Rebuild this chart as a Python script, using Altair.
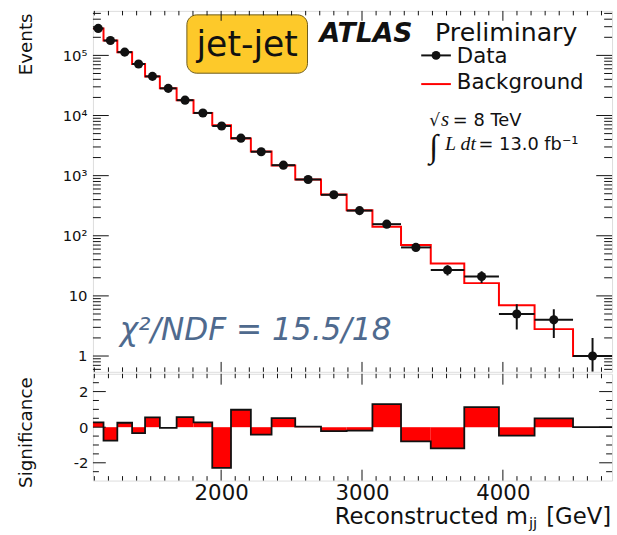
import altair as alt
import numpy as np
import pandas as pd

# ---- dijet invariant mass spectrum, variable-width bins [GeV] ----
mjj_edges = [1090, 1165, 1263, 1368, 1460, 1565, 1684, 1804, 1937, 2070, 2211,
             2358, 2526, 2709, 2891, 3074, 3277, 3488, 3726, 3972, 4225, 4498, 4775]
data_events = [281000, 176500, 113300, 71900, 44800, 28300, 18000, 11040, 6700,
               4200, 2500, 1494, 863, 480, 262, 156, 64, 27, 21, 5, 4, 1]
background = [280860, 176800, 113220, 71990, 44680, 28305, 17925, 11010, 6887,
              4136, 2521, 1474, 862, 485, 265, 141, 70, 34.5, 16.3, 7.0, 2.8, 1.0]
significance = [0.27, -0.75, 0.25, -0.33, 0.55, -0.04, 0.56, 0.27, -2.28, 0.98,
                -0.42, 0.51, 0.03, -0.22, -0.19, 1.29, -0.80, -1.19, 1.13, -0.48,
                0.49, 0.0]

# ---- axis ranges and ticks ----
X_RANGE = [1090, 4775]
Y_RANGE = [0.546, 549500]
S_RANGE = [-3, 3]
x_tick_labels = [2000, 3000, 4000]
x_minor_ticks = [m for m in range(1100, 4800, 100) if m % 1000]
y_tick_labels = [1, 10, 100, 1000, 10000, 100000]
y_minor_ticks = [d * 10.0 ** k for k in range(-1, 6) for d in range(2, 10)
                 if Y_RANGE[0] < d * 10.0 ** k < Y_RANGE[1]]
sig_tick_labels = [-2, 0, 2]
sig_minor_ticks = [-2.5, -1.5, -1, -0.5, 0.5, 1, 1.5, 2.5]

W, H_MAIN, H_SIG = 525, 365, 108
FONT = "DejaVu Sans"
SERIF = "Liberation Serif"
RED = "#ff0000"
INK = "#111111"

# ---- tables ----
data_arr = np.array(data_events, dtype=float)
bins = pd.DataFrame({
    "lo": mjj_edges[:-1],
    "hi": mjj_edges[1:],
    "center": [(a + b) / 2 for a, b in zip(mjj_edges[:-1], mjj_edges[1:])],
    "data": data_arr,
    "err_lo": np.maximum(data_arr - np.sqrt(data_arr), Y_RANGE[0]),
    "err_hi": data_arr + np.sqrt(data_arr),
    "sig": significance,
    "base": 0.0,
})
steps = pd.DataFrame({
    "m": mjj_edges,
    "bkg": background + [background[-1]],
    "sig": significance + [significance[-1]],
})
one = pd.DataFrame({"k": [0]})

xs = alt.Scale(domain=X_RANGE, nice=False, zero=False)
ys = alt.Scale(type="log", domain=Y_RANGE, nice=False)
ss = alt.Scale(domain=S_RANGE, nice=False, zero=False)

y_main_axis = alt.Axis(
    values=y_tick_labels,
    labelExpr=("datum.value >= 99999 ? '10\u2075' : datum.value >= 9999 ? '10\u2074' : "
               "datum.value >= 999 ? '10\u00b3' : datum.value >= 99 ? '10\u00b2' : "
               "datum.value >= 9 ? '10' : '1'"),
    labelFont=FONT, labelFontSize=15, labelPadding=6, labelColor=INK,
    ticks=False, tickSize=0, domain=False, grid=False,
    title="Events", titleFont=FONT, titleFontSize=18.5, titleFontWeight="normal",
    titleColor=INK, titleAngle=270, titleAlign="right", titleBaseline="alphabetic",
    titleX=-62, titleY=2,
)
y_sig_axis = alt.Axis(
    values=sig_tick_labels,
    labelExpr="datum.value < 0 ? '-' + abs(datum.value) : '' + datum.value",
    labelFont=FONT, labelFontSize=15, labelPadding=5, labelColor=INK,
    ticks=False, tickSize=0, domain=False, grid=False,
    title="Significance", titleFont=FONT, titleFontSize=18.5, titleFontWeight="normal",
    titleColor=INK, titleAngle=270, titleAlign="center", titleBaseline="alphabetic",
    titleX=-62, titleY=59,
)
x_sig_axis = alt.Axis(
    values=x_tick_labels, format="d",
    labelFont=FONT, labelFontSize=21.5, labelPadding=2, labelColor=INK,
    ticks=False, tickSize=0, domain=False, grid=False, title=None,
)


def XM(field):
    return alt.X(field, type="quantitative", scale=xs, axis=None)


def YM(field):
    return alt.Y(field, type="quantitative", scale=ys, axis=y_main_axis)


def XS(field):
    return alt.X(field, type="quantitative", scale=xs, axis=x_sig_axis)


def YS(field):
    return alt.Y(field, type="quantitative", scale=ss, axis=y_sig_axis)


def label(text, x, y, size, font=FONT, color=INK, align="left", **kw):
    return alt.Chart(one).mark_text(
        text=text, align=align, baseline="alphabetic", font=font,
        fontSize=size, color=color, **kw
    ).encode(x=alt.value(x), y=alt.value(y))


def ticks_x(values, xenc, height, length):
    df = pd.DataFrame({"v": values})
    top = alt.Chart(df).mark_rule(color=INK, strokeWidth=1).encode(
        x=xenc("v"), y=alt.value(0), y2=alt.value(length))
    bottom = alt.Chart(df).mark_rule(color=INK, strokeWidth=1).encode(
        x=xenc("v"), y=alt.value(height), y2=alt.value(height - length))
    return [top, bottom]


def ticks_y(values, yenc, length):
    df = pd.DataFrame({"v": values})
    left = alt.Chart(df).mark_rule(color=INK, strokeWidth=1).encode(
        y=yenc("v"), x=alt.value(0), x2=alt.value(length))
    right = alt.Chart(df).mark_rule(color=INK, strokeWidth=1).encode(
        y=yenc("v"), x=alt.value(W), x2=alt.value(W - length))
    return [left, right]


# ---- upper panel: spectrum ----
bkg_line = alt.Chart(steps).mark_line(
    interpolate="step-after", color=RED, strokeWidth=2).encode(
    x=XM("m"), y=YM("bkg"))
xerr = alt.Chart(bins).mark_rule(color=INK, strokeWidth=2).encode(
    x=XM("lo"), x2="hi", y=YM("data"))
yerr = alt.Chart(bins).mark_rule(color=INK, strokeWidth=2, clip=True).encode(
    x=XM("center"), y=YM("err_lo"), y2="err_hi")
points = alt.Chart(bins).mark_circle(size=85, color=INK, opacity=1).encode(
    x=XM("center"), y=YM("data"))

tag_box = alt.Chart(one).mark_rect(
    fill="#fdc92a", stroke="#6e5c1c", strokeWidth=1, cornerRadius=10).encode(
    x=alt.value(95), x2=alt.value(217), y=alt.value(4), y2=alt.value(63))

leg_data_line = alt.Chart(one).mark_rule(color=INK, strokeWidth=2).encode(
    x=alt.value(332), x2=alt.value(362), y=alt.value(45))
leg_data_pt = alt.Chart(one).mark_circle(size=80, color=INK, opacity=1).encode(
    x=alt.value(347), y=alt.value(45))
leg_bkg_line = alt.Chart(one).mark_rule(color=RED, strokeWidth=2).encode(
    x=alt.value(332), x2=alt.value(362), y=alt.value(74))

main_layers = [
    bkg_line, xerr, yerr, points,
    tag_box,
    label("jet-jet", 156, 46, 35, align="center"),
    label("ATLAS", 229, 31, 27, fontWeight="bold", fontStyle="italic"),
    label("Preliminary", 346, 30, 25.5),
    leg_data_line, leg_data_pt, label("Data", 368, 53, 21.5),
    leg_bkg_line, label("Background", 368, 79, 21.5),
    label("\u221a", 340, 116, 17),
    label("s", 352, 116, 21, font=SERIF, fontStyle="italic"),
    label("= 8 TeV", 364, 116, 18),
    label("\u222b", 340, 148, 33, font=SERIF),
    label("L dt", 356, 141, 20, font=SERIF, fontStyle="italic"),
    label("= 13.0 fb\u207b\u00b9", 390, 141, 18),
    label("\u03c7\u00b2/NDF = 15.5/18", 27, 333, 31.5, color="#4f6a8e", fontStyle="italic"),
]
main_layers += ticks_x(x_tick_labels, XM, H_MAIN, 10)
main_layers += ticks_x(x_minor_ticks, XM, H_MAIN, 4.5)
main_layers += ticks_y(y_tick_labels, YM, 16)
main_layers += ticks_y(y_minor_ticks, YM, 8)

main = alt.layer(*main_layers).properties(width=W, height=H_MAIN)

# ---- lower panel: bin-by-bin significance ----
sig_bars = alt.Chart(bins).mark_rect(color=RED).encode(
    x=XS("lo"), x2="hi", y=YS("base"), y2="sig")
sig_outline = alt.Chart(steps).mark_line(
    interpolate="step-after", color=INK, strokeWidth=1.8).encode(
    x=XS("m"), y=YS("sig"))

sig_layers = [
    sig_bars, sig_outline,
    label("Reconstructed m", 440, 152, 23, align="right"),
    label("jj", 441, 156, 15),
    label("[GeV]", 524, 152, 23, align="right"),
]
sig_layers += ticks_x(x_tick_labels, XS, H_SIG, 11)
sig_layers += ticks_x(x_minor_ticks, XS, H_SIG, 4.5)
sig_layers += ticks_y(sig_tick_labels, YS, 13)
sig_layers += ticks_y(sig_minor_ticks, YS, 6)

lower = alt.layer(*sig_layers).properties(width=W, height=H_SIG)

chart = alt.vconcat(main, lower, spacing=0).properties(
    padding={"left": 16, "top": 7, "right": 0, "bottom": 0},
    background="white",
).configure_view(stroke=INK, strokeWidth=1.5).configure(font=FONT)

chart.save("out.html", embed_options={"renderer": "svg", "actions": False})
